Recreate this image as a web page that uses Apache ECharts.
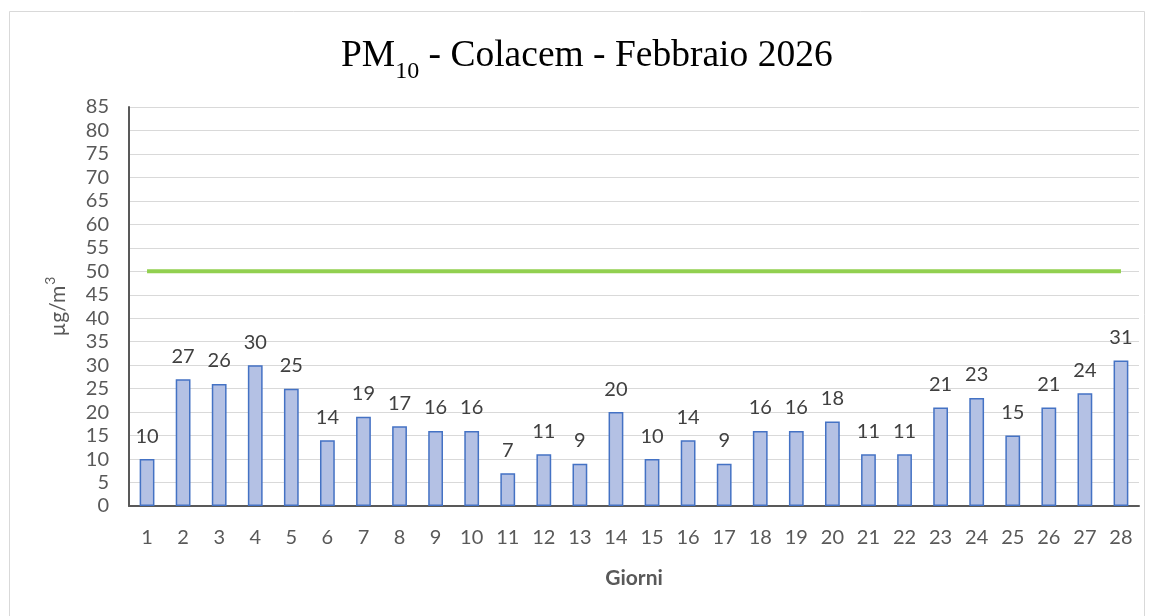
<!DOCTYPE html>
<html>
<head>
<meta charset="utf-8">
<script src="https://cdn.jsdelivr.net/npm/echarts@6/dist/echarts.min.js"></script>
<style>
  html, body { margin: 0; padding: 0; background: #fff; }
  #chart { width: 1154px; height: 616px; }
</style>
</head>
<body>
<div id="chart"></div>
<script>
// giorni di febbraio
const days = []
for (let d = 1; d <= 28; d++) days.push(String(d))
// media giornaliera PM10 (µg/m³)
const pm10 = [10, 27, 26, 30, 25, 14, 19, 17, 16, 16, 7, 11, 9, 20, 10, 14, 9, 16, 16, 18, 11, 11, 21, 23, 15, 21, 24, 31]
// valore limite giornaliero
const limit = days.map(() => 50)

const font = 'Lato, "Open Sans", sans-serif'
const serif = '"Liberation Serif", serif'
const chart = echarts.init(document.getElementById('chart'))

chart.setOption({
  animation: false,
  backgroundColor: '#fff',
  graphic: [{
    type: 'rect',
    shape: { x: 9.5, y: 11.5, width: 1135, height: 620 },
    style: { fill: 'none', stroke: '#D9D9D9', lineWidth: 1 },
    silent: true
  }],
  title: {
    text: '{n|PM}{s|10}{n| - Colacem - Febbraio 2026}',
    left: 336,
    top: 26,
    textStyle: {
      rich: {
        n: { fontFamily: serif, fontSize: 37.5, fontWeight: 'normal', color: '#000', verticalAlign: 'bottom', lineHeight: 44 },
        s: { fontFamily: serif, fontSize: 24, fontWeight: 'normal', color: '#000', verticalAlign: 'bottom', lineHeight: 44, padding: [0, 0, -9, 0] }
      }
    }
  },
  grid: {
    left: 129,
    right: 15,
    top: 107,
    bottom: 110,
    containLabel: false
  },
  xAxis: {
    type: 'category',
    data: days,
    name: 'Giorni',
    nameLocation: 'middle',
    nameGap: 62,
    nameTextStyle: { fontFamily: font, fontSize: 21, fontWeight: 'bold', color: '#595959' },
    axisLine: { lineStyle: { color: '#595959', width: 2 } },
    axisTick: { show: false },
    axisLabel: { fontFamily: font, fontSize: 20, color: '#595959', margin: 22, interval: 0 }
  },
  yAxis: {
    type: 'value',
    min: 0,
    max: 85,
    interval: 5,
    name: '{u|µg/m}{p|3}',
    nameLocation: 'middle',
    nameGap: 60,
    nameTextStyle: {
      rich: {
        u: { fontFamily: font, fontSize: 21, color: '#595959', verticalAlign: 'bottom', lineHeight: 26 },
        p: { fontFamily: font, fontSize: 14, color: '#595959', verticalAlign: 'top', lineHeight: 26, padding: [0, 0, 6, 1] }
      }
    },
    axisLine: { show: true, lineStyle: { color: '#595959', width: 2 } },
    axisTick: { show: false },
    axisLabel: { fontFamily: font, fontSize: 20, color: '#595959', margin: 20 },
    splitLine: { lineStyle: { color: '#D9D9D9', width: 1 } }
  },
  series: [
    {
      name: 'PM10',
      type: 'bar',
      data: pm10,
      barWidth: '41%',
      itemStyle: { color: '#B4C1E4', borderColor: '#4472C4', borderWidth: 1.5 },
      label: {
        show: true,
        position: 'top',
        distance: 13,
        fontFamily: font,
        fontSize: 20,
        color: '#404040'
      },
      z: 2
    },
    {
      name: 'Limite',
      type: 'line',
      data: limit,
      symbol: 'none',
      lineStyle: { color: '#92D050', width: 4 },
      z: 3
    }
  ]
})
</script>
</body>
</html>
